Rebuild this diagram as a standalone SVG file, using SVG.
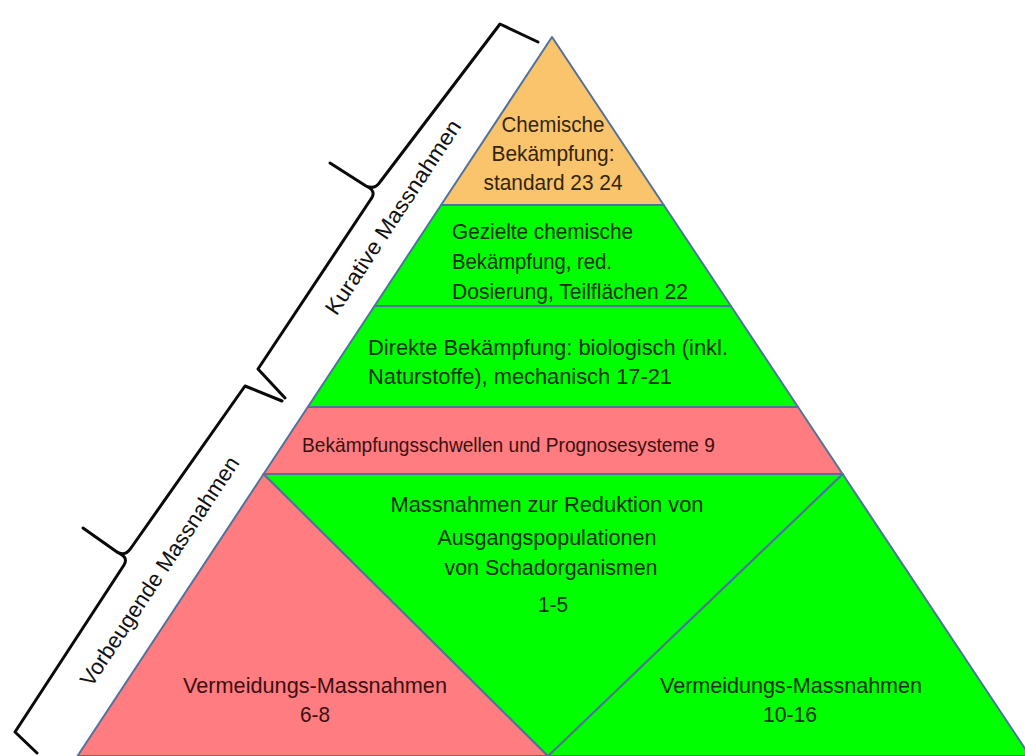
<svg xmlns="http://www.w3.org/2000/svg" width="1025" height="756" viewBox="0 0 1025 756">
  <style>
    .tier { stroke: #51729c; stroke-width: 2; stroke-linejoin: round; }
    .orange { fill: #f9c46c; }
    .green { fill: #00ff00; }
    .red { fill: #ff7c80; }
    .t { font-family: "Liberation Sans", Arial, sans-serif; font-size: 22px; }
    .to { fill: #33240c; }
    .tg { fill: #0b2f0b; }
    .tr { fill: #3a1010; }
    .tb { fill: #111111; }
    .brace { fill: none; stroke: #0a0a0a; stroke-width: 3; stroke-linejoin: round; stroke-linecap: round; }
  </style>
  <rect width="1025" height="756" fill="#ffffff"/>

  <g id="tier-chemisch">
    <polygon class="tier orange" points="552,37 663.7,205 441.1,205"/>
    <text class="t to" text-anchor="middle" x="553" y="132" textLength="103" lengthAdjust="spacingAndGlyphs">Chemische</text>
    <text class="t to" text-anchor="middle" x="553" y="161" textLength="123" lengthAdjust="spacingAndGlyphs">Bekämpfung:</text>
    <text class="t to" text-anchor="middle" x="553" y="190" textLength="139" lengthAdjust="spacingAndGlyphs">standard 23 24</text>
  </g>

  <g id="tier-gezielt">
    <polygon class="tier green" points="441.1,205 663.7,205 730.9,306 374.5,306"/>
    <text class="t tg" x="452" y="239" textLength="181" lengthAdjust="spacingAndGlyphs">Gezielte chemische</text>
    <text class="t tg" x="452" y="269" textLength="160" lengthAdjust="spacingAndGlyphs">Bekämpfung, red.</text>
    <text class="t tg" x="452" y="299" textLength="236" lengthAdjust="spacingAndGlyphs">Dosierung, Teilflächen 22</text>
  </g>

  <g id="tier-direkt">
    <polygon class="tier green" points="374.5,306 730.9,306 798,407 307.8,407"/>
    <text class="t tg" x="368" y="355" textLength="360" lengthAdjust="spacingAndGlyphs">Direkte Bekämpfung: biologisch  (inkl.</text>
    <text class="t tg" x="368" y="384" textLength="304" lengthAdjust="spacingAndGlyphs">Naturstoffe), mechanisch  17-21</text>
  </g>

  <g id="tier-schwellen">
    <polygon class="tier red" points="307.8,407 798,407 842.6,474 263.6,474"/>
    <text class="t tr" style="font-size:21px" text-anchor="middle" x="508.5" y="452" textLength="413" lengthAdjust="spacingAndGlyphs">Bekämpfungsschwellen  und  Prognosesysteme  9</text>
  </g>

  <g id="vermeidung-links">
    <polygon class="tier red" points="263.6,474 548,756 77.5,756"/>
    <text class="t tr" text-anchor="middle" x="315" y="693" textLength="264" lengthAdjust="spacingAndGlyphs">Vermeidungs-Massnahmen</text>
    <text class="t tr" text-anchor="middle" x="315" y="722" textLength="30" lengthAdjust="spacingAndGlyphs">6-8</text>
  </g>

  <g id="vermeidung-rechts">
    <polygon class="tier green" points="842.6,474 1030,756 548,756"/>
    <text class="t tg" text-anchor="middle" x="791" y="693" textLength="262" lengthAdjust="spacingAndGlyphs">Vermeidungs-Massnahmen</text>
    <text class="t tg" text-anchor="middle" x="790" y="722" textLength="54" lengthAdjust="spacingAndGlyphs">10-16</text>
  </g>

  <g id="reduktion">
    <polygon class="tier green" points="263.6,474 842.6,474 548,756"/>
    <text class="t tg" text-anchor="middle" x="547" y="512" textLength="313" lengthAdjust="spacingAndGlyphs">Massnahmen zur Reduktion von</text>
    <text class="t tg" text-anchor="middle" x="547" y="545" textLength="219" lengthAdjust="spacingAndGlyphs">Ausgangspopulationen</text>
    <text class="t tg" text-anchor="middle" x="551" y="575" textLength="213" lengthAdjust="spacingAndGlyphs">von Schadorganismen</text>
    <text class="t tg" text-anchor="middle" x="553" y="612" textLength="30" lengthAdjust="spacingAndGlyphs">1-5</text>
  </g>

  <g id="braces">
    <g id="kurative">
      <path class="brace" d="M538,42 L500,24 L380,182 Q375,190 366,186 L330,163 M366,186 Q377,191 371,199 L258,369 L285,398"/>
      <text class="t tb" text-anchor="middle" transform="translate(552,37) rotate(-56.6)" x="-238" y="-26" textLength="228" lengthAdjust="spacingAndGlyphs">Kurative  Massnahmen</text>
    </g>
    <g id="vorbeugende">
      <path class="brace" d="M282,401 L245,386 L131,548 Q125,557 117,552 L83,528 M117,552 Q129,557 124,565 L15,732 L37,753"/>
      <text class="t tb" text-anchor="middle" transform="translate(552,37) rotate(-56.6)" x="-662" y="-26" textLength="270" lengthAdjust="spacingAndGlyphs">Vorbeugende  Massnahmen</text>
    </g>
  </g>
</svg>
